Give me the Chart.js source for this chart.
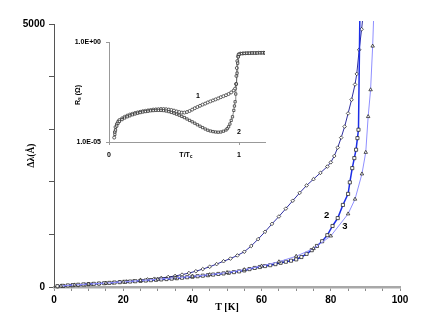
<!DOCTYPE html>
<html>
<head>
<meta charset="utf-8">
<script src="https://cdn.jsdelivr.net/npm/chart.js@4/dist/chart.umd.min.js"></script>
<style>
  body { margin: 0; background: #fff; }
  #wrap { position: relative; width: 440px; height: 336px; }
  #wrap canvas { position: absolute; left: 0; top: 0; }
  .lbl { position: absolute; font: bold 7px "Liberation Sans", Arial, sans-serif; color: #000; white-space: nowrap; transform: translate(-50%, -50%); }
  .lbl sub { font-size: 5px; vertical-align: -1px; }
  #rsLabel { left: 78px; top: 95px; transform: translate(-50%, -50%) rotate(-90deg); }
  #ttcLabel { left: 186px; top: 155px; }
</style>
</head>
<body>
<div id="wrap">
  <canvas id="mainChart" width="440" height="336"></canvas>
  <canvas id="insetChart" width="440" height="336"></canvas>
  <div class="lbl" id="rsLabel">R<sub>s</sub> (Ω)</div>
  <div class="lbl" id="ttcLabel">T/T<sub>c</sub></div>
</div>
<script>
// main plot: Δλ vs T, three samples
const temp1 = [1,3,5,7,9,11,13,15,17,19,21,23,25,27,29,31,33,35,37,39,41,43,45,47,49,51,53,55,57,59,61,63,65,67,69,71,73,75,77,79,80,81,82,83,84,85,86,87,87.5,88.2,88.9,89.3];
const dLambda1 = [10,20,30,38,46,55,63,72,82,95,105,117,130,143,157,172,190,210,235,265,300,340,385,435,490,540,600,670,780,910,1050,1200,1340,1490,1640,1790,1930,2050,2170,2290,2370,2490,2650,2840,3050,3300,3560,3850,4050,4510,4900,5150];

const temp2 = [1,2.5,4,5.5,7,8.5,10,11.5,13,14.5,16,17.5,19,20.5,22,23.5,25,26.5,28,29.5,31,32.5,34,35.5,37,38.5,40,41.5,43,44.5,46,47.5,49,50.5,52,53.5,55,56.5,58,59.5,61,62.5,64,65.5,67,68.5,70,71.5,73,74.5,76,77.5,79,80.5,82,83.5,85,85.5,86.2,86.8,87.3,87.7,88,88.4];
const dLambda2 = [15,22,30,36,43,49,55,60,66,72,78,85,92,98,104,110,117,123,130,137,144,151,159,167,176,186,195,205,215,225,236,248,258,270,283,297,315,340,362,380,398,415,435,460,480,500,525,570,630,700,780,870,985,1160,1310,1560,1770,1990,2260,2450,2610,2830,2990,5150];

const temp3 = [2,6,10,15,20,25,30,35,40,45,50,55,60,65,70,75,80,85,87,89,90.1,90.8,91.5,92.1,92.4];
const dLambda3 = [20,40,55,75,97,122,148,175,203,235,275,330,400,480,585,730,970,1390,1670,2150,2560,3240,3750,4580,5150];

const mainXTicksLabelled = [0, 20, 40, 60, 80, 100];
const mainYTicksLabelled = [0, 5000];

// inset: Rs vs T/Tc, log10 of Rs
const ratio1 = [0.04,0.045,0.05,0.06,0.07,0.08,0.10,0.12,0.14,0.16,0.18,0.20,0.22,0.24,0.26,0.28,0.30,0.32,0.34,0.36,0.38,0.40,0.42,0.44,0.46,0.48,0.50,0.52,0.54,0.56,0.58,0.60,0.62,0.64,0.66,0.68,0.70,0.72,0.74,0.76,0.78,0.80,0.82,0.84,0.86,0.88,0.90,0.92,0.94,0.96,0.97,0.977,0.98,0.983,0.987,0.992,0.997,1.01,1.03,1.05,1.07,1.09,1.11,1.13,1.15,1.17,1.19,1.2];
const logRs1 = [-4.78,-4.5,-4.25,-4.1,-3.98,-3.9,-3.82,-3.74,-3.68,-3.63,-3.59,-3.55,-3.52,-3.49,-3.46,-3.44,-3.42,-3.40,-3.38,-3.37,-3.36,-3.35,-3.35,-3.36,-3.38,-3.40,-3.43,-3.47,-3.50,-3.53,-3.53,-3.50,-3.45,-3.38,-3.31,-3.25,-3.19,-3.13,-3.08,-3.02,-2.97,-2.92,-2.87,-2.82,-2.76,-2.71,-2.66,-2.60,-2.52,-2.42,-2.33,-2.1,-1.7,-1.3,-0.95,-0.72,-0.62,-0.58,-0.57,-0.56,-0.56,-0.55,-0.55,-0.55,-0.54,-0.54,-0.54,-0.54];

const ratio2 = [0.045,0.05,0.06,0.07,0.08,0.10,0.12,0.14,0.16,0.18,0.20,0.22,0.24,0.26,0.28,0.30,0.32,0.34,0.36,0.38,0.40,0.42,0.44,0.46,0.48,0.50,0.52,0.54,0.56,0.58,0.60,0.62,0.64,0.66,0.68,0.70,0.72,0.74,0.76,0.78,0.80,0.82,0.84,0.86,0.88,0.90,0.91,0.92,0.93,0.94,0.95,0.96,0.965,0.97,0.975,0.98,0.985,0.99,0.995,1.0,1.02,1.04,1.06,1.08,1.10,1.12,1.14,1.16,1.18,1.2];
const logRs2 = [-4.62,-4.4,-4.2,-4.06,-3.97,-3.88,-3.8,-3.74,-3.69,-3.64,-3.60,-3.56,-3.53,-3.50,-3.48,-3.46,-3.44,-3.43,-3.42,-3.42,-3.42,-3.43,-3.45,-3.48,-3.52,-3.56,-3.61,-3.66,-3.72,-3.78,-3.85,-3.92,-3.99,-4.06,-4.14,-4.21,-4.28,-4.35,-4.41,-4.45,-4.48,-4.5,-4.51,-4.5,-4.46,-4.4,-4.33,-4.24,-4.1,-3.92,-3.74,-3.42,-3.2,-2.99,-2.6,-2.1,-1.56,-1.06,-0.74,-0.62,-0.58,-0.57,-0.56,-0.56,-0.55,-0.55,-0.55,-0.54,-0.54,-0.54];

const insetXTicks = [0, 1];
const insetYTicks = [1e-5, 1];

const SANS = '"Liberation Sans", Arial, sans-serif';
const SERIF = '"Liberation Serif", "Times New Roman", serif';

const toPoints = (xs, ys) => xs.map((x, i) => ({ x, y: ys[i] }));
const toLogPoints = (xs, ls) => xs.map((x, i) => ({ x, y: Math.pow(10, ls[i]) }));

function sciLabel(v) {
    const [m, e] = Number(v).toExponential(1).split('e');
    const n = parseInt(e, 10);
    return m + 'E' + (n < 0 ? '-' : '+') + String(Math.abs(n)).padStart(2, '0');
}

// draws the small curve numbers at data positions
const curveNumbers = {
    id: 'curveNumbers',
    afterDatasetsDraw(chart, args, opts) {
        const { ctx, scales } = chart;
        ctx.save();
        ctx.font = opts.font;
        ctx.fillStyle = '#000';
        ctx.textAlign = 'center';
        ctx.textBaseline = 'middle';
        (opts.items || []).forEach(it => {
            ctx.fillText(it.text, scales.x.getPixelForValue(it.x), scales.y.getPixelForValue(it.y));
        });
        ctx.restore();
    }
};

const tickFont = { family: SANS, size: 10, weight: 'bold' };
const edgeClip = { left: 5, top: 3, right: 5, bottom: 5 };

new Chart(document.getElementById('mainChart'), {
    type: 'scatter',
    data: {
        datasets: [
            {
                data: toPoints(temp3, dLambda3),
                showLine: true,
                borderColor: '#8f8fff',
                borderWidth: 1,
                pointStyle: 'triangle',
                pointRadius: 2,
                pointBorderColor: '#111',
                pointBorderWidth: 0.7,
                pointBackgroundColor: '#fff',
                clip: edgeClip
            },
            {
                data: toPoints(temp2, dLambda2),
                showLine: true,
                borderColor: '#1c2ee6',
                borderWidth: 1.5,
                pointStyle: 'rect',
                pointRadius: 2.2,
                pointBorderColor: '#111',
                pointBorderWidth: 0.7,
                pointBackgroundColor: '#fff',
                clip: edgeClip
            },
            {
                data: toPoints(temp1, dLambda1),
                showLine: true,
                borderColor: '#2f2fa0',
                borderWidth: 1,
                pointStyle: 'rectRot',
                pointRadius: 1.8,
                pointBorderColor: '#111',
                pointBorderWidth: 0.7,
                pointBackgroundColor: '#fff',
                clip: edgeClip
            }
        ]
    },
    options: {
        responsive: false,
        animation: false,
        layout: { padding: { left: 0, top: 24, right: 40, bottom: 0 } },
        plugins: {
            legend: { display: false },
            tooltip: { enabled: false },
            curveNumbers: {
                font: 'bold 9.5px ' + SANS,
                items: [
                    { text: '2', x: 78.8, y: 1370 },
                    { text: '3', x: 84.1, y: 1160 }
                ]
            }
        },
        scales: {
            x: {
                type: 'linear',
                min: 0,
                max: 100,
                afterFit: s => { s.height = 49; },
                border: { color: '#a8a8a8', width: 2.5 },
                grid: { drawOnChartArea: false, tickLength: 4, color: '#8a8a8a' },
                ticks: {
                    stepSize: 5,
                    autoSkip: false,
                    maxRotation: 0,
                    padding: 3,
                    color: '#000',
                    font: tickFont,
                    callback: v => mainXTicksLabelled.includes(v) ? v : ''
                },
                title: {
                    display: true,
                    text: 'T [K]',
                    color: '#000',
                    font: { family: SERIF, size: 10, weight: 'bold' },
                    padding: { top: 0, bottom: 23 }
                }
            },
            y: {
                min: 0,
                max: 5000,
                afterFit: s => { s.width = 54; },
                border: { color: '#555', width: 1 },
                grid: { drawOnChartArea: false, tickLength: 5, color: '#555' },
                ticks: {
                    stepSize: 1000,
                    padding: 4,
                    color: '#000',
                    font: tickFont,
                    callback: v => mainYTicksLabelled.includes(v) ? v : ''
                },
                title: {
                    display: true,
                    text: 'Δλ(Å)',
                    color: '#000',
                    font: { family: SERIF, size: 9.5, weight: 'bold' },
                    padding: { top: 26, bottom: 0 }
                }
            }
        }
    },
    plugins: [curveNumbers]
});

const insetFont = { family: SANS, size: 7, weight: 'bold' };

new Chart(document.getElementById('insetChart'), {
    type: 'scatter',
    data: {
        datasets: [
            {
                data: toLogPoints(ratio2, logRs2),
                showLine: true,
                borderColor: '#555',
                borderWidth: 0.7,
                pointStyle: 'rect',
                pointRadius: 1.6,
                pointBorderColor: '#222',
                pointBorderWidth: 0.7,
                pointBackgroundColor: '#fff'
            },
            {
                data: toLogPoints(ratio1, logRs1),
                showLine: true,
                borderColor: '#555',
                borderWidth: 0.7,
                pointStyle: 'circle',
                pointRadius: 1.5,
                pointBorderColor: '#222',
                pointBorderWidth: 0.7,
                pointBackgroundColor: '#fff'
            }
        ]
    },
    options: {
        responsive: false,
        animation: false,
        layout: { padding: { left: 0, top: 42, right: 175, bottom: 174 } },
        plugins: {
            legend: { display: false },
            tooltip: { enabled: false },
            curveNumbers: {
                font: 'bold 7px ' + SANS,
                items: [
                    { text: '1', x: 0.685, y: Math.pow(10, -2.7) },
                    { text: '2', x: 1.0, y: Math.pow(10, -4.5) }
                ]
            }
        },
        scales: {
            x: {
                type: 'linear',
                min: 0,
                max: 1.2,
                afterFit: s => { s.height = 20; },
                afterBuildTicks: s => { s.ticks = insetXTicks.map(v => ({ value: v })); },
                border: { color: '#999', width: 1 },
                grid: { drawOnChartArea: false, tickLength: 3, color: '#999' },
                ticks: { padding: 6, color: '#000', font: insetFont, maxRotation: 0 }
            },
            y: {
                type: 'logarithmic',
                min: 1e-5,
                max: 1,
                afterFit: s => { s.width = 109; },
                afterBuildTicks: s => { s.ticks = insetYTicks.map(v => ({ value: v })); },
                border: { color: '#999', width: 1 },
                grid: { drawOnChartArea: false, tickLength: 3, color: '#999' },
                ticks: { padding: 5, color: '#000', font: insetFont, callback: v => sciLabel(v) }
            }
        }
    },
    plugins: [curveNumbers]
});
</script>
</body>
</html>
